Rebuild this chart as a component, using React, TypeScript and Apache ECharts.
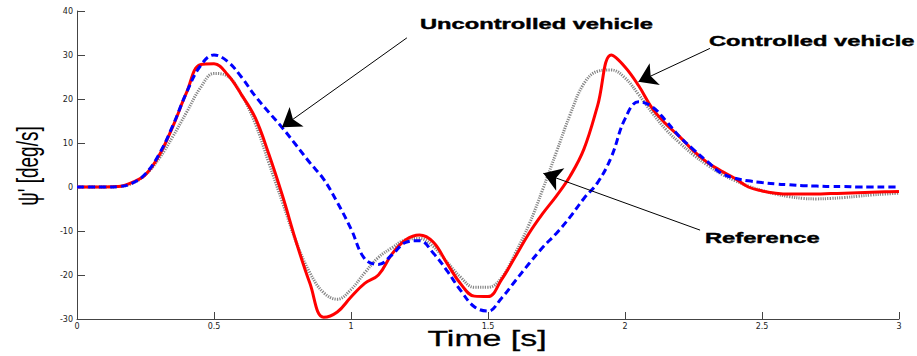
import React, { useEffect, useRef } from "react";
import * as echarts from "echarts";

const time = [
  0, 0.05, 0.1, 0.15, 0.2, 0.25, 0.3, 0.35, 0.4, 0.45, 0.5, 0.55, 0.6, 0.65, 0.7, 0.75, 0.8, 0.85, 0.9, 0.95,
  1.0, 1.05, 1.1, 1.15, 1.2, 1.25, 1.3, 1.35, 1.4, 1.45, 1.5, 1.55, 1.6, 1.65, 1.7, 1.75, 1.8, 1.85, 1.9, 1.95,
  2.0, 2.05, 2.1, 2.15, 2.2, 2.25, 2.3, 2.35, 2.4, 2.45, 2.5, 2.55, 2.6, 2.65, 2.7, 2.75, 2.8, 2.85, 2.9, 2.95, 3.0,
];

const reference = [
  0, 0, 0, 0.1, 0.8, 2.8, 6.5, 11.5, 17, 22.5, 25.8, 25.2, 21, 14.5, 5.5, -3.5, -12.5, -19.5, -24, -25.5,
  -23.3, -19.5, -16, -13.8, -12, -11.7, -13.5, -17, -20.5, -22.8, -22.8, -20.6, -15, -8.5, -0.5, 8, 16.5, 23.5, 26.3, 26.6,
  24.8, 21, 16.8, 13, 10, 7.3, 5, 3, 1.5, 0.2, -0.8, -1.6, -2.2, -2.6, -2.7, -2.6, -2.4, -2.1, -1.8, -1.6, -1.4,
];

const controlled = [
  0, 0, 0, 0.1, 1, 2.8, 7.2, 13.8, 21.5, 27.8, 28, 25.5, 21, 15.8, 7.5, -2, -12.5, -21.9, -29.6, -28.4,
  -25, -21.9, -20, -15.2, -12, -10.9, -12.5, -17.3, -22, -24.8, -24.9, -21, -15.8, -10.5, -6, -2, 2.5, 8.6, 18.5, 30,
  27.3, 23, 17.8, 14.3, 11.4, 8.2, 5.6, 3.7, 2, 0, -0.9, -1.4, -1.6, -1.6, -1.6, -1.5, -1.4, -1.3, -1.2, -1.1, -1,
];

const uncontrolled = [
  0, 0, 0, 0.1, 0.8, 3, 7.5, 14, 21.5, 27.5, 30, 28.5, 25, 20.7, 17, 13.4, 9.5, 5.5, 1.8, -3.5,
  -9.5, -16.3, -17.6, -15.4, -12.6, -12.2, -15, -19, -23.5, -27.2, -28.2, -25.2, -21.3, -17.4, -13.7, -10.5, -6.8, -2.6, 1, 6.8,
  15.5, 19.4, 18.2, 15, 11.4, 8.5, 5.8, 3.2, 2, 1.4, 1, 0.7, 0.5, 0.3, 0.2, 0.1, 0.1, 0, 0, 0, 0,
];

const xTicks = { min: 0, max: 3, interval: 0.5 };
const yTicks = { min: -30, max: 40, interval: 10 };

// annotation arrows: [fromTime, fromValue, toTime, toValue]
const arrowUncontrolled = [1.204, 33.9, 0.748, 13.6];
const arrowControlled = [2.31, 31.5, 2.049, 23.9];
const arrowReference = [2.274, -9.8, 1.702, 3.1];

const pair = (vals: number[]) => time.map((t, i) => [t, vals[i]]);
const arrow = (a: number[]) => [{ coord: [a[0], a[1]] }, { coord: [a[2], a[3]] }];

export default function App() {
  const ref = useRef<HTMLDivElement>(null);
  useEffect(() => {
    if (!ref.current) return;
    const chart = echarts.init(ref.current, undefined, { renderer: "svg" });
    const stretch = 1.58;
    const boldText = (text: string, x: number, y: number) => ({
      type: "text",
      x,
      y,
      scaleX: stretch,
      style: {
        text,
        font: 'bold 15px "Liberation Sans"',
        fill: "#000",
        stroke: "#000",
        lineWidth: 0.4,
        textAlign: "left",
        textVerticalAlign: "middle",
      },
    });
    chart.setOption({
      animation: false,
      backgroundColor: "#ffffff",
      grid: { left: 77, right: 18, top: 11, bottom: 37, containLabel: false },
      xAxis: {
        type: "value",
        min: xTicks.min,
        max: xTicks.max,
        interval: xTicks.interval,
        splitLine: { show: false },
        axisLine: { show: true, onZero: false, lineStyle: { color: "#444", width: 1 } },
        axisTick: { show: true, inside: true, length: 7, lineStyle: { color: "#444" } },
        axisLabel: { fontSize: 8, fontFamily: "DejaVu Sans", color: "#222", margin: 3 },
      },
      yAxis: {
        type: "value",
        min: yTicks.min,
        max: yTicks.max,
        interval: yTicks.interval,
        splitLine: { show: false },
        axisLine: { show: true, onZero: false, lineStyle: { color: "#444", width: 1 } },
        axisTick: { show: true, inside: true, length: 8, lineStyle: { color: "#444" } },
        axisLabel: { fontSize: 8, fontFamily: "DejaVu Sans", color: "#222", margin: 4 },
      },
      series: [
        {
          name: "Reference",
          type: "line",
          data: pair(reference),
          showSymbol: false,
          smooth: 0.4,
          z: 1,
          lineStyle: { color: "#858585", width: 3, type: [1.2, 1.2] },
          markLine: {
            silent: true,
            symbol: ["none", "arrow"],
            symbolSize: 18,
            label: { show: false },
            lineStyle: { color: "#000", width: 1, type: "solid" },
            data: [arrow(arrowUncontrolled), arrow(arrowControlled), arrow(arrowReference)],
          },
        },
        {
          name: "Controlled vehicle",
          type: "line",
          data: pair(controlled),
          showSymbol: false,
          smooth: 0.4,
          z: 2,
          lineStyle: { color: "#ff0000", width: 3, type: "solid" },
        },
        {
          name: "Uncontrolled vehicle",
          type: "line",
          data: pair(uncontrolled),
          showSymbol: false,
          smooth: 0.4,
          z: 3,
          lineStyle: { color: "#0000ff", width: 3, type: [7, 4] },
        },
      ],
      graphic: [
        {
          type: "text",
          x: 27,
          y: 166,
          rotation: Math.PI / 2,
          scaleY: stretch,
          style: {
            text: "ψ' [deg/s]",
            font: '19px "Liberation Sans"',
            fill: "#000",
            textAlign: "center",
            textVerticalAlign: "middle",
          },
        },
        {
          type: "text",
          x: 487,
          y: 338,
          scaleX: 1.54,
          style: {
            text: "Time [s]",
            font: '22px "Liberation Sans"',
            fill: "#000",
            stroke: "#000",
            lineWidth: 0.3,
            textAlign: "center",
            textVerticalAlign: "middle",
          },
        },
        boldText("Uncontrolled vehicle", 420, 24),
        boldText("Controlled vehicle", 709, 41),
        boldText("Reference", 705, 238),
      ],
    });
    return () => chart.dispose();
  }, []);
  return (
    <div
      ref={ref}
      style={{ position: "fixed", left: 0, top: 0, width: 917, height: 356, background: "#fff" }}
    />
  );
}
